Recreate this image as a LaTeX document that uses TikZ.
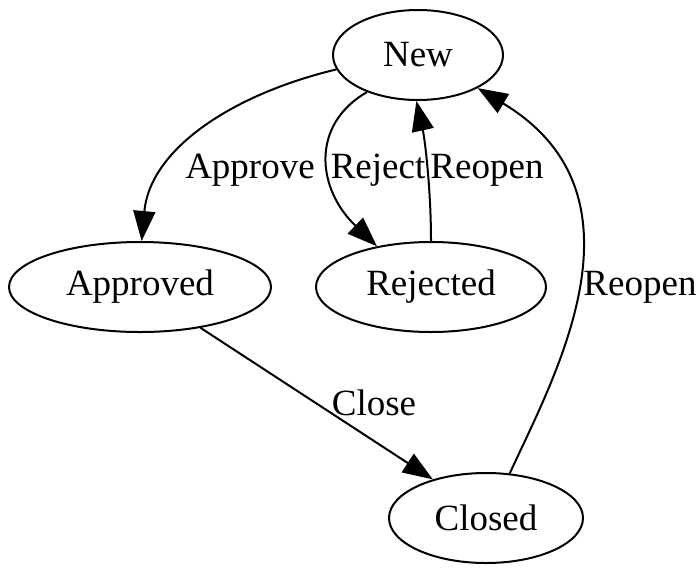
\documentclass[tikz,border=0pt]{standalone}
\usepackage{fontspec}
\setmainfont{Liberation Serif}
\usetikzlibrary{shapes.geometric,arrows.meta}
\begin{document}
\begin{tikzpicture}[x=0.5pt,y=-0.5pt,
  state/.style={draw,ellipse,line width=1pt,inner sep=0pt,minimum height=45pt,font=\fontsize{18.5pt}{22pt}\selectfont},
  edge/.style={line width=1pt,-{Triangle[length=15pt,width=11pt]}},
  lab/.style={inner sep=0pt,font=\fontsize{18.5pt}{22pt}\selectfont}]
\useasboundingbox (0,0) rectangle (700,568);
\node[state,minimum width=85pt] (new) at (418,55) {New};
\node[state,minimum width=131pt] (approved) at (140,287) {Approved};
\node[state,minimum width=115pt] (rejected) at (431,287) {Rejected};
\node[state,minimum width=97pt] (closed) at (486,518) {Closed};
\draw[edge] (new.190) .. controls (230,95) and (150,150) .. (approved.88);
\draw[edge] (new.216) .. controls (310,125) and (317,189) .. (rejected.143);
\draw[edge] (rejected.90) .. controls (431,190) and (425,140) .. (new.268);
\draw[edge] (closed.62) .. controls (555,375) and (655,195) .. (new.-29);
\draw[edge] (approved.-34) -- (closed.144);
\node[lab] (lapprove) at (250,170) {Approve};
\node[lab] (lreject) at (378,170) {Reject};
\node[lab] (lreopen1) at (487,170) {Reopen};
\node[lab] (lreopen2) at (640,287) {Reopen};
\node[lab] (lclose) at (374,403) {Close};
\end{tikzpicture}
\end{document}
